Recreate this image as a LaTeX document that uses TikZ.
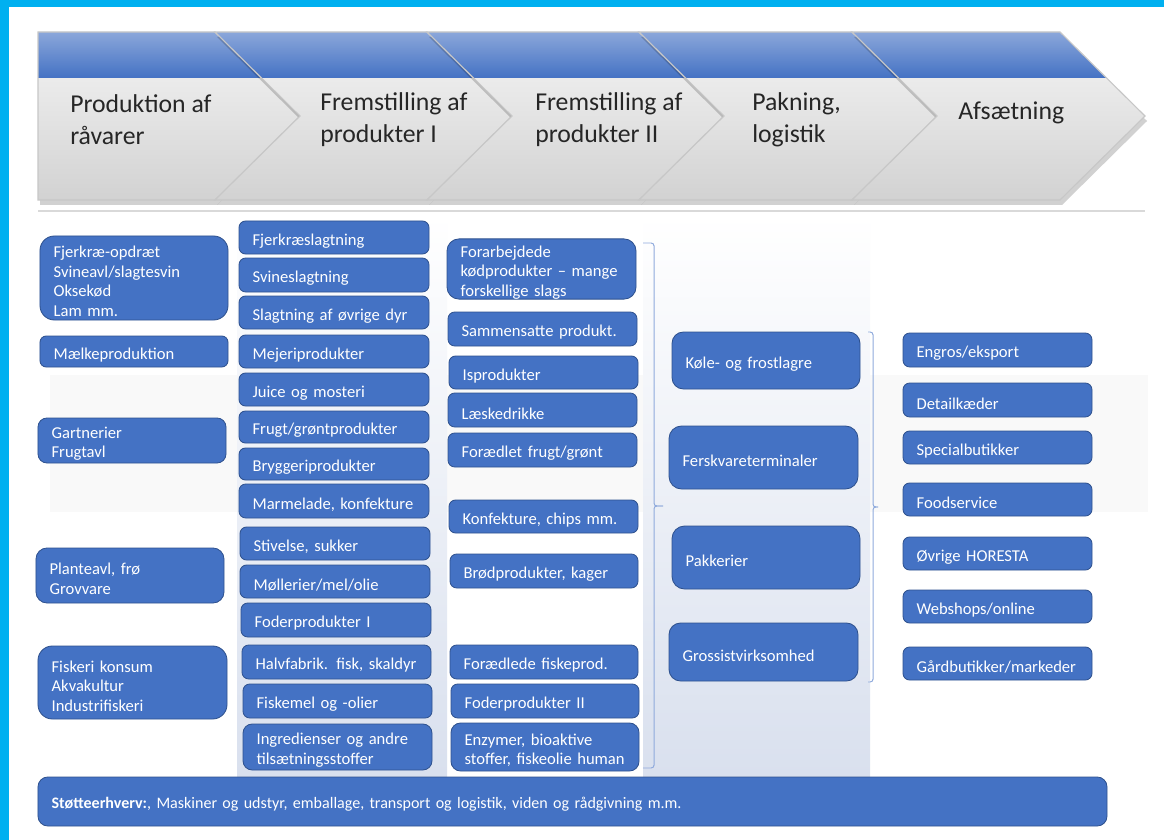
\documentclass[tikz,border=0pt]{standalone}
\usepackage{fontspec}
\setmainfont{Carlito}
\usetikzlibrary{calc}
\hyphenpenalty=10000
\exhyphenpenalty=10000
\definecolor{boksblaa}{HTML}{4472C4}
\definecolor{boksrand}{HTML}{2F528F}
\definecolor{kant}{HTML}{00B0F0}
\definecolor{klammeblaa}{HTML}{8FAADC}
\definecolor{pilblaa}{HTML}{8EA9DB}
\definecolor{pilgraa}{HTML}{D2D2D2}
\definecolor{baand}{HTML}{D9E0EE}
\tikzset{
	boks/.style={draw=boksrand, line width=0.6pt, fill=boksblaa, text=white, align=left, inner xsep=0.34cm, inner ysep=0pt, font=\fontsize{11.8}{13.9}\selectfont},
	hoved/.style={anchor=west, align=left, text=black!85, inner sep=0pt, font=\fontsize{18.3}{22.8}\selectfont},
	pilkant/.style={draw=black!22, line width=0.8pt},
	klamme/.style={draw=klammeblaa, line width=0.7pt, rounded corners=2pt}
}
\def\boks[#1](#2)(#3,#4)(#5,#6)#7{%
	\pgfmathsetmacro\bw{(#5-#3)*0.025}%
	\pgfmathsetmacro\bh{(#6-#4)*0.025}%
	\pgfmathsetmacro\tw{\bw-0.68}%
	\pgfmathsetmacro\rk{min(0.2*\bh,0.36)}%
	\node[boks, rounded corners=\rk cm, minimum height=\bh cm, text width=\tw cm, #1] (#2) at ({(#3+#5)/2},{(#4+#6)/2}) {\rule{0pt}{1.1em}#7};}
\def\pil[#1](#2,#3){%
	\fill[black, opacity=0.18, shift={(2,5)}] (#2,32) -- (#3,32) -- ({#3+85},116) -- (#3,200) -- (#2,200) -- ({#2+#1},116) -- cycle;
	\shade[top color=black!4, bottom color=pilgraa] (#2,32) -- (#3,32) -- ({#3+85},116) -- (#3,200) -- (#2,200) -- ({#2+#1},116) -- cycle;
	\begin{scope}
		\clip (#2,32) -- (#3,32) -- ({#3+85},116) -- (#3,200) -- (#2,200) -- ({#2+#1},116) -- cycle;
		\shade[top color=pilblaa, bottom color=boksblaa] (#2,30) rectangle ({#3+90},78);
	\end{scope}
	\draw[pilkant] (#2,32) -- (#3,32) -- ({#3+85},116) -- (#3,200) -- (#2,200) -- ({#2+#1},116) -- cycle;}

\begin{document}
\begin{tikzpicture}[x=0.025cm, y=-0.025cm]
	%%%%% START %%%%%
	\useasboundingbox (0,0) rectangle (1164,840);
	\fill[white] (0,0) rectangle (1164,840);
	
	\fill[black!2.5] (50,375) rectangle (1148,512);
	\shade[top color=white, bottom color=baand] (237,215) rectangle (447,776);
	\shade[top color=white, bottom color=baand] (643,215) rectangle (870,776);
	
	\pil[0](38,215)
	\pil[85](215,427)
	\pil[85](427,639)
	\pil[85](639,852)
	\pil[85](852,1060)
	\draw[black!15, line width=1.5pt] (38,211) -- (1145,211);
	
	\node[hoved] (raavarer) at (70,120) {Produktion af\\råvarer};
	\node[hoved] (prodI) at (320,120) {Fremstilling af\\produkter I};
	\node[hoved] (prodII) at (535,120) {Fremstilling af\\produkter II};
	\node[hoved] (pakning) at (752,120) {Pakning,\\logistik};
	\node[hoved] (afsaetning) at (958,113) {Afsætning};
	
	\boks[](fjerkrae)(40,236)(228,320){Fjerkræ-opdræt\\Svineavl/slagtesvin\\Oksekød\\Lam mm.}
	\boks[](maelk)(40,336)(228,367){Mælkeproduktion}
	\boks[](gartneri)(38,418)(226,463){Gartnerier\\Frugtavl}
	\boks[](planteavl)(36,548)(224,603){Planteavl, frø\\Grovvare}
	\boks[](fiskeri)(38,646)(227,719){Fiskeri konsum\\Akvakultur\\Industrifiskeri}
	
	\boks[](fjerkraeslagt)(239,221)(429,254){Fjerkræslagtning}
	\boks[](svineslagt)(239,258)(429,292){Svineslagtning}
	\boks[](oevrigedyr)(239,296)(429,329){Slagtning af øvrige dyr}
	\boks[](mejeri)(239,335)(429,368){Mejeriprodukter}
	\boks[](juice)(239,373)(429,406){Juice og mosteri}
	\boks[](frugtgroent)(239,411)(429,443){Frugt/grøntprodukter}
	\boks[](bryggeri)(239,448)(429,480){Bryggeriprodukter}
	\boks[](marmelade)(239,484)(429,518){Marmelade, konfekture}
	\boks[](stivelse)(240,527)(430,560){Stivelse, sukker}
	\boks[](moelleri)(240,565)(430,598){Møllerier/mel/olie}
	\boks[](foderI)(241,603)(431,637){Foderprodukter I}
	\boks[](halvfabrik)(242,645)(431,679){Halvfabrik. fisk, skaldyr}
	\boks[](fiskemel)(243,684)(432,718){Fiskemel og -olier}
	\boks[](ingredienser)(243,724)(432,770){Ingredienser og andre\\tilsætningsstoffer}
	
	\boks[](forarbejdede)(447,239)(636,299){Forarbejdede\\kødprodukter – mange\\forskellige slags}
	\boks[](sammensatte)(448,312)(637,346){Sammensatte produkt.}
	\boks[](isprod)(449,356)(638,389){Isprodukter}
	\boks[](laeske)(448,393)(637,427){Læskedrikke}
	\boks[](foraedlet)(448,433)(637,467){Forædlet frugt/grønt}
	\boks[](konfekture)(449,500)(638,533){Konfekture, chips mm.}
	\boks[](broed)(450,554)(638,588){Brødprodukter, kager}
	\boks[](fiskeprod)(450,645)(638,679){Forædlede fiskeprod.}
	\boks[](foderII)(451,684)(639,718){Foderprodukter II}
	\boks[](enzymer)(451,723)(639,771){Enzymer, bioaktive\\stoffer, fiskeolie human}
	
	\draw[klamme] (643,243) -| (654,506) -- (663,506);
	\draw[klamme] (663,506) -- (654,506) |- (643,768);
	
	\boks[](koele)(672,332)(860,389){Køle- og frostlagre}
	\boks[](ferskvare)(669,426)(858,489){Ferskvareterminaler}
	\boks[](pakkerier)(672,526)(860,589){Pakkerier}
	\boks[](grossist)(669,623)(858,681){Grossistvirksomhed}
	
	\draw[klamme] (868,332) -| (873,507) -- (878,507);
	\draw[klamme] (878,507) -- (873,507) |- (868,682);
	
	\boks[](engros)(903,333)(1092,367){Engros/eksport}
	\boks[](detail)(903,383)(1092,417){Detailkæder}
	\boks[](special)(903,431)(1092,464){Specialbutikker}
	\boks[](foodservice)(903,483)(1092,516){Foodservice}
	\boks[](horesta)(903,537)(1092,570){Øvrige HORESTA}
	\boks[](webshops)(903,590)(1092,623){Webshops/online}
	\boks[](gaardbutik)(903,647)(1092,680){Gårdbutikker/markeder}
	
	\boks[font=\fontsize{11.4}{13}\selectfont](stoette)(38,777)(1107,826){\textbf{Støtteerhverv:}, Maskiner og udstyr, emballage, transport og logistik, viden og rådgivning m.m.}
	
	\fill[kant] (0,0) rectangle (9,840);
	\fill[kant] (0,0) rectangle (1164,7);
	%%%%% END %%%%%
\end{tikzpicture}
\end{document}
